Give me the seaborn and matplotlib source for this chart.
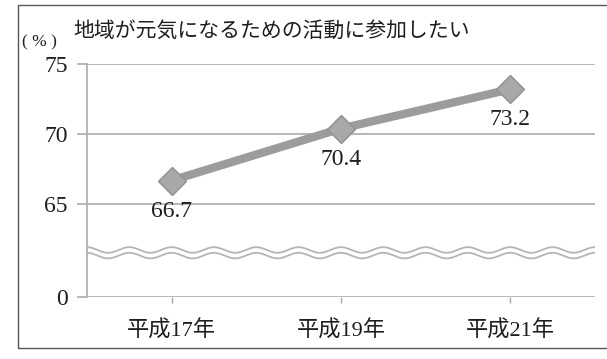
import numpy as np
import pandas as pd
import matplotlib
matplotlib.use('Agg')
import matplotlib.pyplot as plt
import seaborn as sns
from matplotlib.patches import Rectangle

# data
years = ['平成17年', '平成19年', '平成21年']
values = [66.7, 70.4, 73.2]
ytick_values = [0, 65, 70, 75]
title = '地域が元気になるための活動に参加したい'

# broken axis: 0 is drawn at this position below 65
BREAK_POS = 58.4

sns.set_theme(style='white')
plt.rcParams['font.family'] = ['Liberation Serif', 'Noto Sans CJK JP']

df = pd.DataFrame({'year': years, 'value': values})

fig = plt.figure(figsize=(6.07, 3.59), dpi=100)
ax = fig.add_axes([0.1433, 0.1727, 0.8367, 0.649])

grid_col = '#ababab'
txt_col = '#1e1e1e'

# horizontal grid lines
tick_pos = [BREAK_POS if v == 0 else v for v in ytick_values]
for p in tick_pos:
    ax.axhline(p, color=grid_col, lw=1.2, zorder=1)

sns.lineplot(data=df, x='year', y='value', ax=ax, color='#9c9c9c', lw=6,
             marker='D', markersize=14, markerfacecolor='#a8a8a8',
             markeredgecolor='#909090', markeredgewidth=1, zorder=3)

for i, v in enumerate(values):
    ax.annotate(f'{v}', (i, v), xytext=(0, -22), textcoords='offset points',
                ha='center', va='center', fontsize=17, color=txt_col)

# wavy break marks
xw = np.linspace(-0.5, 2.5, 600)
wave = 0.2 * np.sin((xw + 0.5) * 2 * np.pi / 0.25 + np.pi / 2)
ax.plot(xw, 61.75 + wave, color='#b5b5b5', lw=1.3, zorder=2)
ax.plot(xw, 61.35 + wave, color='#b5b5b5', lw=1.3, zorder=2)

ax.set_xlim(-0.5, 2.5)
ax.set_ylim(BREAK_POS, 75)
ax.set_yticks(tick_pos)
ax.set_yticklabels([str(v) for v in ytick_values])
ax.set_xlabel('')
ax.set_ylabel('')

for s in ['top', 'right', 'bottom']:
    ax.spines[s].set_visible(False)
ax.spines['left'].set_color(grid_col)
ax.spines['left'].set_linewidth(1.2)

ax.tick_params(axis='y', left=True, length=7, width=1.2, color=grid_col,
               pad=7, labelsize=17, labelcolor=txt_col)
ax.tick_params(axis='x', bottom=True, length=4, width=1, color=grid_col,
               pad=13, labelsize=16, labelcolor=txt_col)

fig.text(0.120, 0.912, title, fontsize=15, color=txt_col, ha='left', va='center')
fig.text(0.036, 0.882, '( % )', fontsize=12.5, color=txt_col, ha='left', va='center')

# outer frame
fig.patches.append(Rectangle((0.0297, 0.0306), 1.0, 0.955, transform=fig.transFigure,
                             fill=False, edgecolor='#555555', lw=1.0))

fig.savefig('out.png', dpi=100)
